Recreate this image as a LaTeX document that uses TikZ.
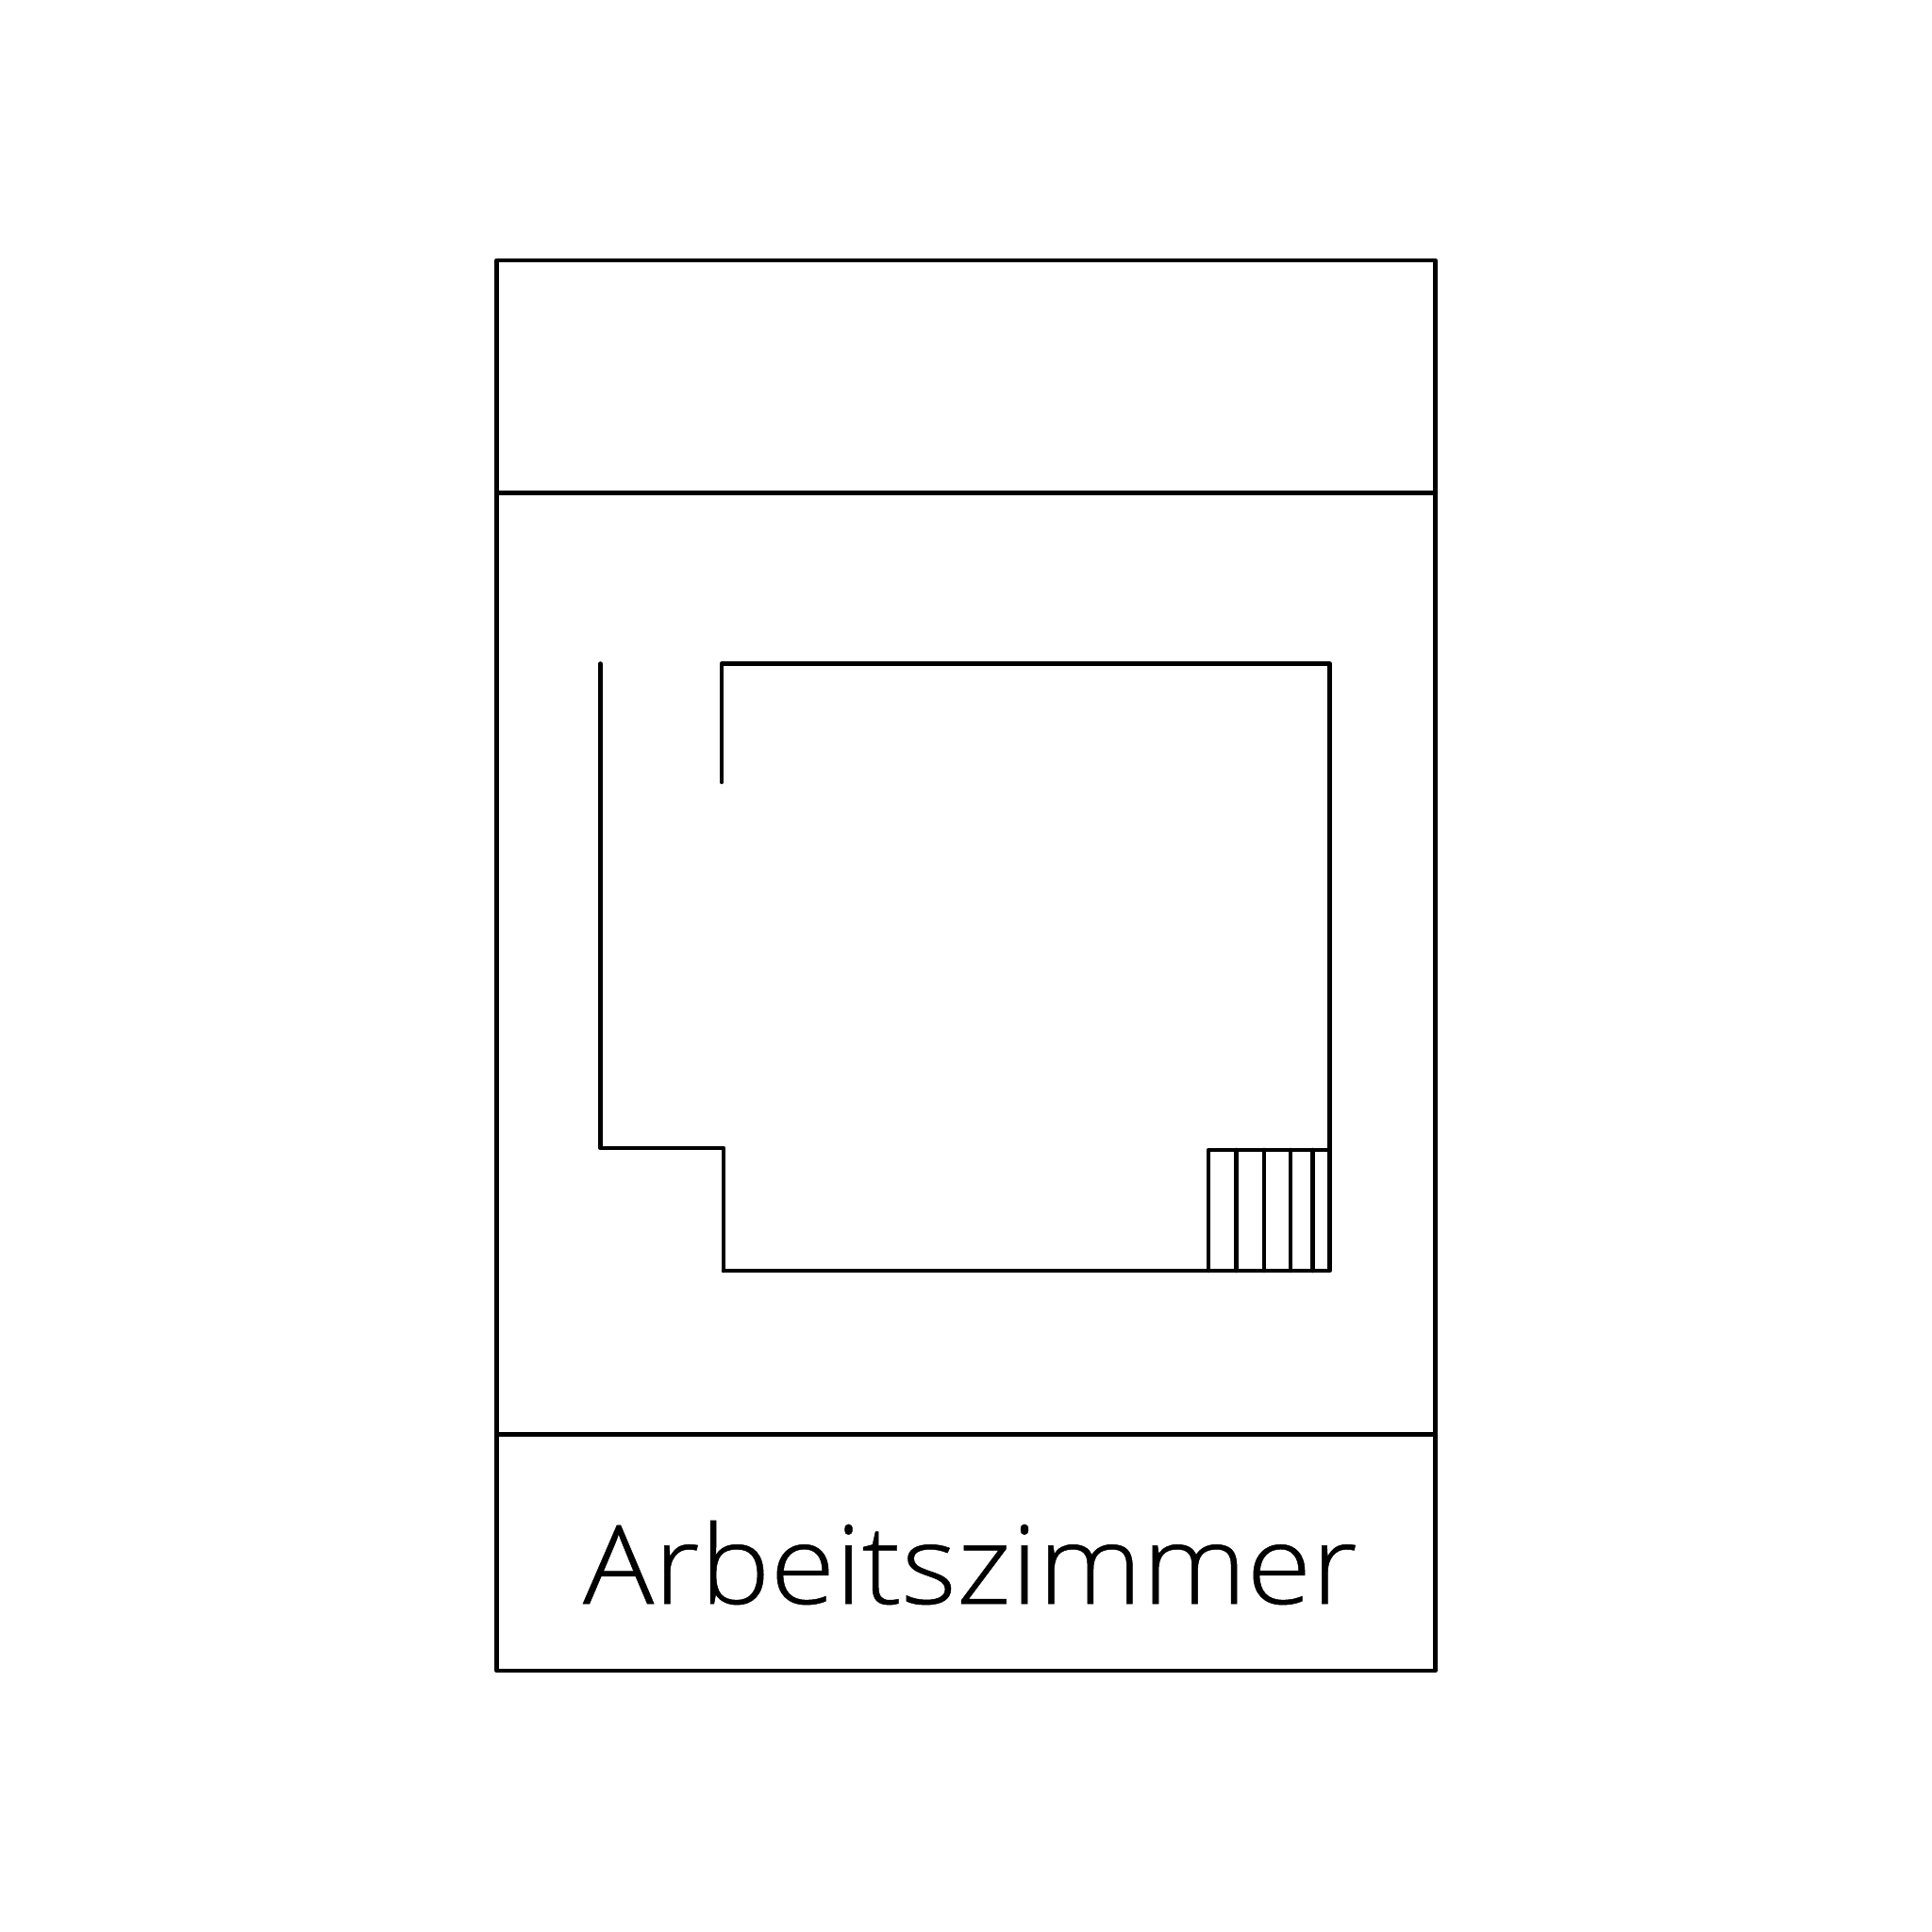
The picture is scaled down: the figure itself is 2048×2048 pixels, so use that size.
\documentclass[tikz,border=0pt]{standalone}
\usepackage{fontspec}
\setmainfont[FakeStretch=1.08,FakeBold=0.4]{Open Sans Light}
\tikzset{wall/.style={line width=1.3pt,line cap=round,line join=round}}
\begin{document}
\begin{tikzpicture}[x=0.01cm,y=-0.01cm]
	\useasboundingbox (0,0) rectangle (2048,2048);
	\draw [wall](526.5,276)rectangle(1521.5,1771);
	\draw [wall](526.5,522.5)--(1521.5,522.5);
	\draw [wall](526.5,1520.5)--(1521.5,1520.5);
	\draw [wall](636.5,703.5)--(636.5,1217)--(767,1217)--(767,1347);
	\draw [wall](765,829)--(765,703.5)--(1409.5,703.5)--(1409.5,1347)--(767,1347);
	\draw [wall](1281,1347)--(1281,1219)--(1409.5,1219);
	\draw [wall](1310.5,1219)--(1310.5,1347);
	\draw [wall](1340,1219)--(1340,1347);
	\draw [wall](1368,1219)--(1368,1347);
	\draw [wall](1391.5,1219)--(1391.5,1347);
	\node (title) [anchor=base,inner sep=0pt] at (1028.5,1700){\fontsize{33}{33}\selectfont Arbeitszimmer};
\end{tikzpicture}
\end{document}
